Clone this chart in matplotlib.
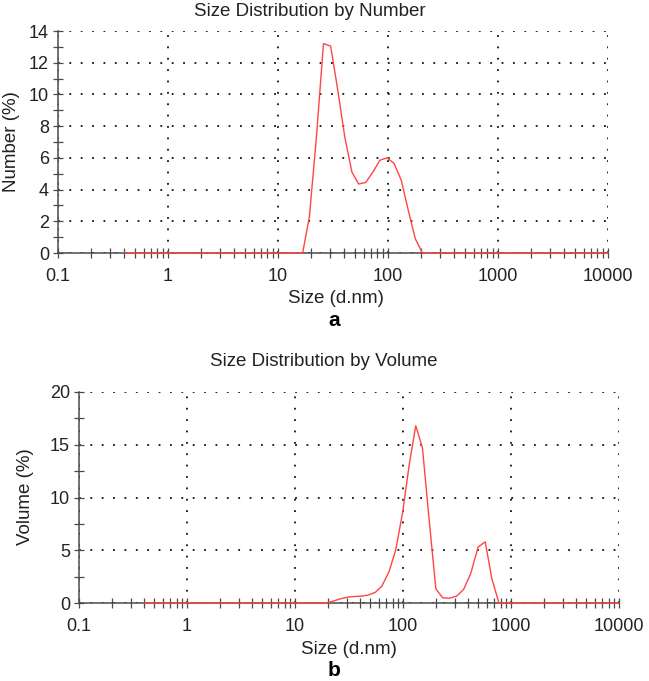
import matplotlib

matplotlib.use("Agg")
import matplotlib.pyplot as plt
from matplotlib.ticker import FixedLocator, LogLocator, MultipleLocator, NullFormatter

plt.rcParams["font.family"] = ["Liberation Sans", "DejaVu Sans"]

# size distribution by number (a)
number_size = [0.4, 16.75, 19.3, 22.4, 25.9, 30.1, 34.9, 40.5, 47.0, 54.1, 62.8, 72.8,
               84.4, 97.9, 113.5, 131.8, 152.8, 177.1, 205.4, 10000]
number_pct = [0, 0, 2.3, 7.4, 13.2, 13.05, 10.3, 7.3, 5.1, 4.35, 4.45, 5.1,
              5.85, 6.0, 5.65, 4.6, 2.7, 0.9, 0, 0]

# size distribution by volume (b)
volume_size = [0.4, 19.7, 22.9, 26.4, 30.7, 35.5, 41.2, 47.5, 55.2, 63.7, 74.1, 85.5,
               99.3, 114.5, 131.3, 151.4, 174.6, 201.4, 232.4, 268.4, 314.0, 364.9,
               424.0, 496.0, 577.0, 665.0, 773.0, 10000]
volume_pct = [0, 0, 0.2, 0.4, 0.55, 0.62, 0.65, 0.75, 1.0, 1.6, 2.95, 5.0,
              8.6, 13.2, 16.8, 14.7, 7.9, 1.35, 0.5, 0.45, 0.65, 1.3,
              2.8, 5.3, 5.8, 2.3, 0, 0]

x_ticks = [0.1, 1, 10, 100, 1000, 10000]
x_tick_labels = ["0.1", "1", "10", "100", "1000", "10000"]

LINE_COLOR = "#ff4545"
AXIS_COLOR = "#4a4a4a"
TEXT_COLOR = "#222222"
TICK_FONTSIZE = 13
LABEL_FONTSIZE = 13.5


def style_axis(ax, ymax, ymajor, yminor):
    ax.set_xscale("log")
    ax.set_xlim(0.1, 10000)
    ax.set_ylim(0, ymax)
    ax.xaxis.set_major_locator(FixedLocator(x_ticks))
    ax.set_xticklabels(x_tick_labels)
    ax.xaxis.set_minor_locator(LogLocator(base=10, subs=range(2, 10), numticks=20))
    ax.xaxis.set_minor_formatter(NullFormatter())
    ax.yaxis.set_major_locator(MultipleLocator(ymajor))
    ax.yaxis.set_minor_locator(MultipleLocator(yminor))
    for side in ("top", "right"):
        ax.spines[side].set_visible(False)
    for side in ("left", "bottom"):
        ax.spines[side].set_color(AXIS_COLOR)
        ax.spines[side].set_linewidth(1.1)
    ax.tick_params(which="both", direction="inout", length=7, width=0.9, color=AXIS_COLOR)
    ax.tick_params(axis="x", which="major", pad=7, labelsize=TICK_FONTSIZE, labelcolor=TEXT_COLOR)
    ax.tick_params(axis="y", which="major", pad=3, labelsize=TICK_FONTSIZE, labelcolor=TEXT_COLOR)
    ax.grid(which="major", color="#111111", linestyle=(0, (1, 5.3)), linewidth=1.3)


fig = plt.figure(figsize=(6.49, 6.81), dpi=100)
W, H = 649, 681

ax1 = fig.add_axes([58 / W, 1 - 253 / H, 550 / W, 222 / H])
style_axis(ax1, 14, 2, 1)
ax1.plot(number_size, number_pct, color=LINE_COLOR, linewidth=1.0, clip_on=False, zorder=3)
fig.text(310 / W, 1 - 16 / H, "Size Distribution by Number", ha="center", va="baseline",
         fontsize=LABEL_FONTSIZE, color=TEXT_COLOR)
fig.text(12 / W, 1 - 142 / H, "Number (%)", ha="center", va="center", rotation=90,
         fontsize=LABEL_FONTSIZE, color=TEXT_COLOR)
fig.text(336 / W, 1 - 298 / H, "Size (d.nm)", ha="center", va="center",
         fontsize=LABEL_FONTSIZE, color=TEXT_COLOR)
fig.text(334 / W, 1 - 321 / H, "a", ha="center", va="center", fontsize=15,
         fontweight="bold")

ax2 = fig.add_axes([79 / W, 1 - 603 / H, 540 / W, 211 / H])
style_axis(ax2, 20, 5, 2.5)
ax2.plot(volume_size, volume_pct, color=LINE_COLOR, linewidth=1.0, clip_on=False, zorder=3)
fig.text(324 / W, 1 - 362 / H, "Size Distribution by Volume", ha="center", va="center",
         fontsize=LABEL_FONTSIZE, color=TEXT_COLOR)
fig.text(26 / W, 1 - 497 / H, "Volume (%)", ha="center", va="center", rotation=90,
         fontsize=LABEL_FONTSIZE, color=TEXT_COLOR)
fig.text(349 / W, 1 - 649 / H, "Size (d.nm)", ha="center", va="center",
         fontsize=LABEL_FONTSIZE, color=TEXT_COLOR)
fig.text(334 / W, 1 - 671 / H, "b", ha="center", va="center", fontsize=15,
         fontweight="bold")

fig.savefig("out.png", dpi=100)
plt.close(fig)
